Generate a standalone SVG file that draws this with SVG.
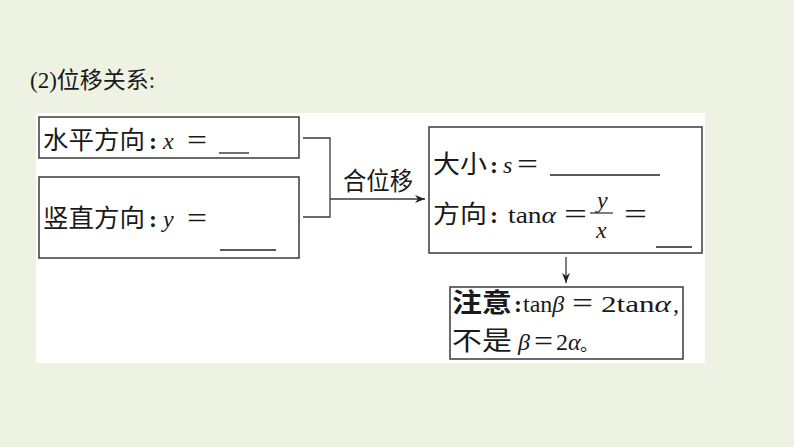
<svg xmlns="http://www.w3.org/2000/svg" width="794" height="447" viewBox="0 0 794 447">
<style>
.box{fill:none;stroke:#3a3a3a;stroke-width:1.5}
.ln{stroke:#3a3a3a;stroke-width:1.3;fill:none}
.blank{stroke:#222;stroke-width:1.3}
.cjk{font-family:"Liberation Serif","Noto Sans CJK SC",serif;font-size:25px;fill:#1a1a1a}
.m{font-family:"Liberation Serif",serif;font-size:24px;fill:#1a1a1a}
.mi{font-family:"Liberation Serif",serif;font-style:italic;font-size:24px;fill:#1a1a1a}
.eq{font-family:"Liberation Serif",serif;font-size:30px;fill:#1a1a1a}
</style>
<defs>
<marker id="ah" viewBox="0 0 10 10" refX="10" refY="5" markerWidth="10" markerHeight="10" markerUnits="userSpaceOnUse" orient="auto">
<path d="M0,1 L10,5 L0,9 L3,5 Z" fill="#222"/>
</marker>
</defs>
<rect x="0" y="0" width="794" height="447" fill="#edf2e3"/>
<rect x="36" y="113" width="669" height="250" fill="#ffffff"/>
<g id="title">
<text x="30" y="88" font-family="Liberation Serif,'Noto Sans CJK SC',serif" font-size="23" fill="#1a1a1a">(2)位移关系:</text>
</g>
<g id="connectors">
<polyline class="ln" points="303,138 330,138 330,217 303,217"/>
<line class="ln" x1="330" y1="199" x2="425" y2="199" marker-end="url(#ah)"/>
<text class="cjk" x="343" y="190" font-size="23" textLength="70" lengthAdjust="spacingAndGlyphs">合位移</text>
<line class="ln" x1="566" y1="257" x2="566" y2="283" marker-end="url(#ah)"/>
</g>
<g id="node-horizontal">
<rect class="box" x="39" y="117" width="260" height="41"/>
<text class="cjk" x="43" y="149" textLength="102" lengthAdjust="spacingAndGlyphs">水平方向</text>
<text class="m" x="149" y="149" font-weight="bold">:</text>
<text class="mi" x="163" y="149">x</text>
<text class="eq" x="187" y="150" textLength="20" lengthAdjust="spacingAndGlyphs">=</text>
<line class="blank" x1="219" y1="153" x2="249" y2="153"/>
</g>
<g id="node-vertical">
<rect class="box" x="39" y="177" width="260" height="81"/>
<text class="cjk" x="43" y="227" textLength="102" lengthAdjust="spacingAndGlyphs">竖直方向</text>
<text class="m" x="149" y="227" font-weight="bold">:</text>
<text class="mi" x="163" y="227">y</text>
<text class="eq" x="187" y="228" textLength="20" lengthAdjust="spacingAndGlyphs">=</text>
<line class="blank" x1="220" y1="250" x2="276" y2="250"/>
</g>
<g id="node-resultant">
<rect class="box" x="429" y="127" width="273" height="126"/>
<text class="cjk" x="433" y="173" textLength="54" lengthAdjust="spacingAndGlyphs">大小</text>
<text class="m" x="490" y="173" font-weight="bold">:</text>
<text class="mi" x="503" y="173">s</text>
<text class="eq" x="517" y="174" textLength="21" lengthAdjust="spacingAndGlyphs">=</text>
<line class="blank" x1="550" y1="175" x2="660" y2="175"/>
<text class="cjk" x="433" y="223" textLength="54" lengthAdjust="spacingAndGlyphs">方向</text>
<text class="m" x="490" y="223" font-weight="bold">:</text>
<text class="m" x="508" y="223" textLength="48" lengthAdjust="spacingAndGlyphs">tan<tspan font-style="italic">α</tspan></text>
<text class="eq" x="564" y="224" textLength="23" lengthAdjust="spacingAndGlyphs">=</text>
<text class="mi" x="597" y="208">y</text>
<line class="ln" x1="590" y1="213" x2="613" y2="213"/>
<text class="mi" x="596" y="238">x</text>
<text class="eq" x="624" y="224" textLength="23" lengthAdjust="spacingAndGlyphs">=</text>
<line class="blank" x1="656" y1="247" x2="692" y2="247"/>
</g>
<g id="node-note">
<rect class="box" x="450" y="287" width="233" height="72"/>
<text transform="translate(452,312) scale(1.15,1)" x="0" y="0" font-weight="bold" font-family="'Noto Sans CJK SC',sans-serif" font-size="26" fill="#1a1a1a">注意</text>
<text class="m" x="514" y="312" font-weight="bold">:</text>
<text class="m" x="523" y="312">tan<tspan font-style="italic">β</tspan></text>
<text class="eq" x="572" y="313" textLength="21" lengthAdjust="spacingAndGlyphs">=</text>
<text class="m" x="601" y="312" textLength="70" lengthAdjust="spacingAndGlyphs">2tan<tspan font-style="italic">α</tspan></text>
<text class="m" x="673" y="312">,</text>
<text transform="translate(452,350) scale(1.15,1)" x="0" y="0" font-family="'Noto Sans CJK SC',sans-serif" font-size="26" fill="#1a1a1a">不是</text>
<text class="mi" x="518" y="350">β</text>
<text class="eq" x="534" y="351" textLength="19" lengthAdjust="spacingAndGlyphs">=</text>
<text class="m" x="556" y="350">2</text>
<text class="mi" x="568" y="350">α</text>
<text x="580" y="351" font-family="'Noto Sans CJK SC',sans-serif" font-size="18" fill="#1a1a1a">。</text>
</g>
</svg>
